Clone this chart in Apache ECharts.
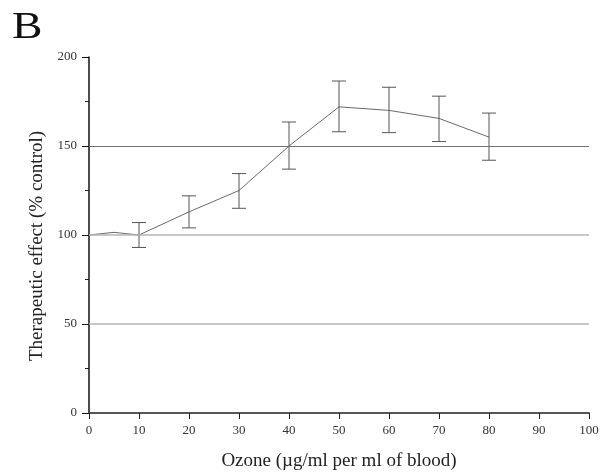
<!DOCTYPE html>
<html>
<head>
<meta charset="utf-8">
<script src="https://cdn.jsdelivr.net/npm/echarts@6/dist/echarts.min.js"></script>
<style>html,body{margin:0;padding:0;background:#fff;}#c{width:602px;height:472px;}</style>
</head>
<body>
<div id="c"></div>
<script>
const ozone = [0, 5, 10, 20, 30, 40, 50, 60, 70, 80];
const effect = [100, 101.5, 100, 113, 125, 150, 172, 170, 165.5, 155];
const errX = [10, 20, 30, 40, 50, 60, 70, 80];
const errLow = [93, 104, 115, 137, 158, 157.5, 152.5, 142];
const errHigh = [107, 122, 134.5, 163.5, 186.5, 183, 178, 168.5];
const refLines = [50, 100, 150];

const chart = echarts.init(document.getElementById('c'));
const serif = 'Liberation Serif';
chart.setOption({
  animation: false,
  backgroundColor: '#fff',
  grid: { left: 89, right: 13, top: 57, bottom: 59, containLabel: false, outerBoundsMode: 'none' },
  graphic: [{
    type: 'text', left: 12, top: 9, scaleX: 1.2,
    style: { text: 'B', font: '38px "Liberation Serif"', fill: '#111' }
  }],
  xAxis: {
    type: 'value', min: 0, max: 100, interval: 10,
    name: 'Ozone (\u00b5g/ml per ml of blood)',
    nameLocation: 'middle', nameGap: 39,
    nameTextStyle: { fontFamily: serif, fontSize: 19, color: '#222' },
    axisLine: { show: true, onZero: false, lineStyle: { color: '#555', width: 2 } },
    axisTick: { show: true, length: 6, lineStyle: { color: '#222', width: 1 } },
    axisLabel: { fontFamily: serif, fontSize: 13, color: '#333', margin: 11 },
    splitLine: { show: false }
  },
  yAxis: {
    type: 'value', min: 0, max: 200, interval: 50,
    name: 'Therapeutic effect (% control)',
    nameLocation: 'middle', nameGap: 41,
    nameTextStyle: { fontFamily: serif, fontSize: 19, color: '#222', padding: [0, 22, 0, 0] },
    axisLine: { show: true, lineStyle: { color: '#111', width: 1.5 } },
    axisTick: { show: true, length: 7, lineStyle: { color: '#111', width: 1 } },
    minorTick: { show: true, splitNumber: 2, length: 4, lineStyle: { color: '#222', width: 1 } },
    axisLabel: { fontFamily: serif, fontSize: 13, color: '#333', margin: 12 },
    splitLine: { show: false }
  },
  series: [
    {
      type: 'line', data: ozone.map((x, i) => [x, effect[i]]),
      showSymbol: false, symbol: 'none',
      lineStyle: { color: '#6a6a6a', width: 1 }, z: 3,
      markLine: {
        silent: true, symbol: 'none', label: { show: false },
        data: refLines.map(v => ({
          yAxis: v,
          lineStyle: { color: v === 150 ? '#707070' : '#b4b4b4', width: v === 150 ? 1 : 1.5, type: 'solid' }
        }))
      }
    },
    {
      type: 'custom', z: 4,
      data: errX.map((x, i) => [x, errLow[i], errHigh[i]]),
      renderItem: function (params, api) {
        const x = api.value(0);
        const lo = api.coord([x, api.value(1)]);
        const hi = api.coord([x, api.value(2)]);
        const w = 7;
        const st = { stroke: '#555', lineWidth: 1 };
        return {
          type: 'group',
          children: [
            { type: 'line', shape: { x1: lo[0], y1: lo[1], x2: hi[0], y2: hi[1] }, style: st },
            { type: 'line', shape: { x1: lo[0] - w, y1: lo[1], x2: lo[0] + w, y2: lo[1] }, style: st },
            { type: 'line', shape: { x1: hi[0] - w, y1: hi[1], x2: hi[0] + w, y2: hi[1] }, style: st }
          ]
        };
      }
    }
  ]
});
</script>
</body>
</html>
